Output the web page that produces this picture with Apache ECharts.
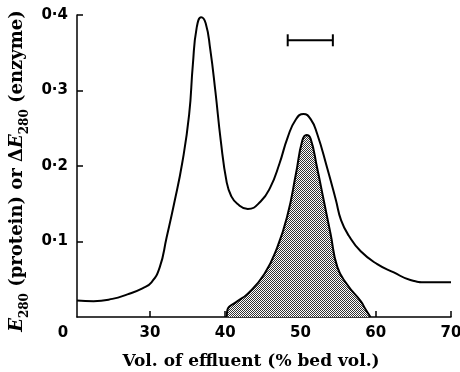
<!DOCTYPE html>
<html>
<head>
<meta charset="utf-8">
<script src="https://cdn.jsdelivr.net/npm/echarts@6/dist/echarts.min.js"></script>
<style>
  html, body { margin: 0; padding: 0; background: #fff; }
  #chart { width: 460px; height: 372px; }
</style>
</head>
<body>
<div id="chart"></div>
<script>
// effluent volume (% bed vol.) and E280 of the protein trace
const proteinVol = [20.3, 22.5, 25, 27, 29, 30.2, 31.3, 32.2, 33.2, 34.3, 35.2, 35.7, 36.2, 36.8, 37.4, 38.0, 38.7, 39.4, 40.2, 40.8, 41.6, 43.0, 44.7, 46.0, 47.2, 48.3, 49.4, 50.4, 51.35, 52.2, 53.5, 54.7, 55.4, 56.4, 58.0, 60.2, 62.4, 64.6, 66.8, 70];
const proteinE = [0.022, 0.021, 0.024, 0.030, 0.038, 0.046, 0.066, 0.105, 0.150, 0.205, 0.268, 0.335, 0.383, 0.397, 0.389, 0.355, 0.298, 0.234, 0.178, 0.160, 0.150, 0.143, 0.153, 0.172, 0.203, 0.238, 0.262, 0.269, 0.262, 0.243, 0.199, 0.155, 0.128, 0.108, 0.087, 0.070, 0.059, 0.049, 0.046, 0.046];

// enzyme activity trace (shaded)
const enzymeVol = [40.2, 40.3, 41.5, 43.0, 45.2, 46.9, 48.3, 49.4, 50.25, 50.8, 51.35, 52.2, 53.1, 54.0, 54.9, 56.2, 58.0, 58.6, 59.3];
const enzymeE = [0, 0.010, 0.020, 0.031, 0.057, 0.092, 0.136, 0.190, 0.234, 0.241, 0.236, 0.198, 0.154, 0.110, 0.066, 0.043, 0.021, 0.011, 0];

// horizontal scale bar
const barVol = [48.3, 54.3];
const barE = [0.3665, 0.3665];

const xTicks = [20.3, 30, 40, 50, 60, 70];
const yTicks = [0, 0.1, 0.2, 0.3, 0.4];

const pairs = (xs, ys) => xs.map((x, i) => [x, ys[i]]);

// stippled fill, 1px checker
const tile = document.createElement("canvas");
tile.width = 2;
tile.height = 2;
const tc = tile.getContext("2d");
tc.fillStyle = "#fff";
tc.fillRect(0, 0, 2, 2);
tc.fillStyle = "#333";
tc.fillRect(0, 0, 1, 1);
tc.fillRect(1, 1, 1, 1);

const chart = echarts.init(document.getElementById("chart"), null, { renderer: "canvas" });

const serif = "'DejaVu Serif', serif";
const sans = "'DejaVu Sans', sans-serif";

chart.setOption({
  animation: false,
  grid: { left: 77, right: 9, top: 15, bottom: 55, outerBoundsMode: "none" },
  xAxis: {
    type: "value",
    min: 20.3,
    max: 70,
    splitLine: { show: false },
    axisLine: { onZero: false, lineStyle: { color: "#000", width: 1.5 } },
    axisTick: { inside: true, length: 6, customValues: xTicks.slice(1), lineStyle: { color: "#000", width: 1.5 } },
    axisLabel: {
      customValues: xTicks,
      color: "#000",
      fontFamily: sans,
      fontWeight: "bold",
      fontSize: 15,
      margin: 9,
      formatter: (v) => (v < 21 ? "{o|0}" : String(v)),
      rich: { o: { fontFamily: sans, fontWeight: "bold", fontSize: 15, color: "#000", padding: [0, 28, 0, 0] } },
    },
    name: "Vol. of effluent (% bed vol.)",
    nameLocation: "middle",
    nameGap: 36,
    nameTextStyle: { color: "#000", fontFamily: serif, fontWeight: "bold", fontSize: 17, padding: [0, 26, 0, 0] },
  },
  yAxis: {
    type: "value",
    min: 0,
    max: 0.4,
    splitLine: { show: false },
    axisLine: { lineStyle: { color: "#000", width: 1.5 } },
    axisTick: { inside: true, length: 6, customValues: yTicks.slice(1), lineStyle: { color: "#000", width: 1.5 } },
    axisLabel: {
      customValues: yTicks.slice(1),
      color: "#000",
      fontFamily: sans,
      fontWeight: "bold",
      fontSize: 15,
      margin: 9,
      formatter: (v) => v.toFixed(1).replace(".", "\u00b7"),
    },
    name: "{e|E}{s|280} (protein) or \u0394{e|E}{s|280} (enzyme)",
    nameLocation: "middle",
    nameRotate: 90,
    nameGap: 44,
    nameTextStyle: {
      color: "#000",
      fontFamily: serif,
      fontWeight: "bold",
      fontSize: 18,
      lineHeight: 26,
      padding: [0, 10, 0, 0],
      rich: {
        e: { fontFamily: serif, fontWeight: "bold", fontStyle: "italic", fontSize: 18, lineHeight: 26, color: "#000" },
        s: { fontFamily: serif, fontWeight: "bold", fontSize: 12, lineHeight: 26, verticalAlign: "bottom", color: "#000" },
      },
    },
  },
  series: [
    {
      type: "line",
      data: pairs(enzymeVol, enzymeE),
      smooth: 0.5,
      symbol: "none",
      lineStyle: { color: "#000", width: 2 },
      areaStyle: { color: { image: tile, repeat: "repeat" }, opacity: 1 },
      z: 2,
    },
    {
      type: "line",
      data: pairs(proteinVol, proteinE),
      smooth: 0.5,
      symbol: "none",
      lineStyle: { color: "#000", width: 2 },
      z: 3,
    },
    {
      type: "line",
      data: pairs(barVol, barE),
      symbol: "rect",
      symbolSize: [2, 12],
      itemStyle: { color: "#000" },
      lineStyle: { color: "#000", width: 2 },
      z: 4,
    },
  ],
});
</script>
</body>
</html>
